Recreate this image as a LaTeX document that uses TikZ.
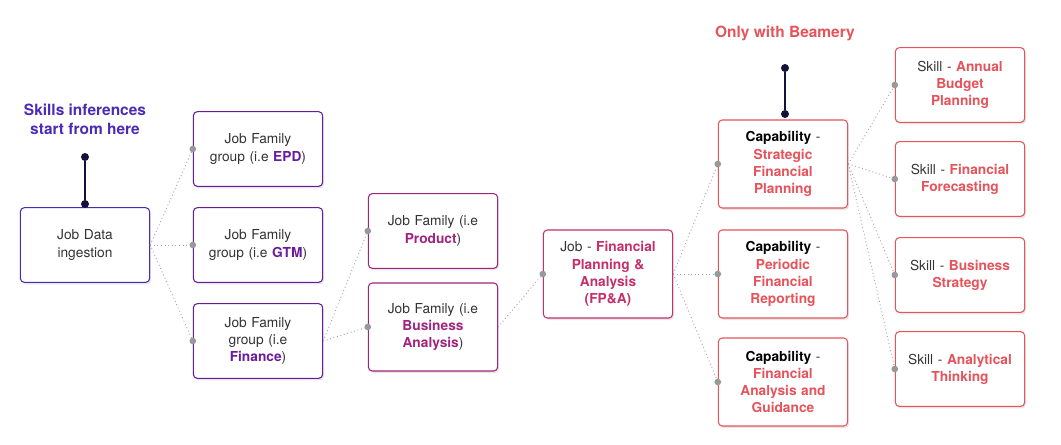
\documentclass[tikz,border=0pt]{standalone}
\usepackage{fontspec}
\setmainfont{TeX Gyre Heros}
\usetikzlibrary{positioning,shadows}
\definecolor{ink}{HTML}{333333}
\definecolor{violetA}{HTML}{4B2BB3}
\definecolor{violetB}{HTML}{6A1B9A}
\definecolor{magentaA}{HTML}{A0247F}
\definecolor{roseA}{HTML}{C3306B}
\definecolor{coral}{HTML}{E5535B}
\definecolor{navy}{HTML}{12123A}
\tikzset{
  box/.style={draw,rounded corners=3pt,fill=white,line width=0.8pt,align=center,
    text width=90pt,minimum width=97pt,minimum height=56pt,
    font=\fontsize{10.3}{12.9}\selectfont,text=ink,
    drop shadow={opacity=0.2,shadow xshift=1pt,shadow yshift=-1.5pt}},
  tall/.style={minimum height=66pt},
  link/.style={draw=gray!70,dotted,line width=0.7pt},
  tip/.style={circle,fill=gray!80,inner sep=0pt,minimum size=5pt},
  pin/.style={circle,fill=navy,inner sep=0pt,minimum size=6pt},
  title/.style={font=\fontsize{11.6}{14.5}\selectfont\bfseries,align=center}
}
\begin{document}
\begin{tikzpicture}[x=0.75pt,y=-0.75pt]
	\useasboundingbox (0,0) rectangle (1061,444);
	% Boxes
		\node (data) at (85,245)   [box,draw=violetA] {Job Data\\ingestion};
		\node (epd) at (258,149)   [box,draw=violetB] {Job Family\\group (i.e \textbf{\color{violetB}EPD})};
		\node (gtm) at (258,245)   [box,draw=violetB] {Job Family\\group (i.e \textbf{\color{violetB}GTM})};
		\node (fin) at (258,341)   [box,draw=violetB] {Job Family\\group (i.e\\\textbf{\color{violetB}Finance})};
		\node (prod) at (433,231)  [box,draw=magentaA] {Job Family (i.e\\\textbf{\color{magentaA}Product})};
		\node (ba) at (433,327)    [box,draw=magentaA,tall] {Job Family (i.e\\\textbf{\color{magentaA}Business}\\\textbf{\color{magentaA}Analysis})};
		\node (fpa) at (608,274)   [box,draw=roseA,tall] {Job - \textbf{\color{roseA}Financial}\\\textbf{\color{roseA}Planning \&}\\\textbf{\color{roseA}Analysis}\\\textbf{\color{roseA}(FP\&A)}};
		\node (sfp) at (783,164)   [box,draw=coral,tall] {\textbf{\color{black}Capability} -\\\textbf{\color{coral}Strategic}\\\textbf{\color{coral}Financial}\\\textbf{\color{coral}Planning}};
		\node (pfr) at (783,274)   [box,draw=coral,tall] {\textbf{\color{black}Capability} -\\\textbf{\color{coral}Periodic}\\\textbf{\color{coral}Financial}\\\textbf{\color{coral}Reporting}};
		\node (fag) at (783,382)   [box,draw=coral,tall] {\textbf{\color{black}Capability} -\\\textbf{\color{coral}Financial}\\\textbf{\color{coral}Analysis and}\\\textbf{\color{coral}Guidance}};
		\node (abp) at (960,85)    [box,draw=coral] {Skill - \textbf{\color{coral}Annual}\\\textbf{\color{coral}Budget}\\\textbf{\color{coral}Planning}};
		\node (ff) at (960,179)    [box,draw=coral] {Skill - \textbf{\color{coral}Financial}\\\textbf{\color{coral}Forecasting}};
		\node (bs) at (960,275)    [box,draw=coral] {Skill - \textbf{\color{coral}Business}\\\textbf{\color{coral}Strategy}};
		\node (at) at (960,369)    [box,draw=coral] {Skill - \textbf{\color{coral}Analytical}\\\textbf{\color{coral}Thinking}};
	% Titles
		\node (start) at (85,119) [title,text=violetA] {Skills inferences\\start from here};
		\node (only) at (785,33)  [title,text=coral] {Only with Beamery};
		\node (p1) at (85,157) [pin] {};
		\node (p2) at (85,204) [pin] {};
		\node (p3) at (785,68) [pin] {};
		\node (p4) at (785,114) [pin] {};
		\draw[navy,line width=1pt] (p1) -- (p2);
		\draw[navy,line width=1pt] (p3) -- (p4);
	% Links
		\foreach \s/\t in {data/epd,data/gtm,data/fin,fin/prod,fin/ba,ba/fpa,fpa/sfp,fpa/pfr,fpa/fag,sfp/abp,sfp/ff,sfp/bs,sfp/at}{
			\draw[link] (\s.east) -- (\t.west);
			\node[tip] at (\t.west) {};
		}
	\end{tikzpicture}
\end{document}
